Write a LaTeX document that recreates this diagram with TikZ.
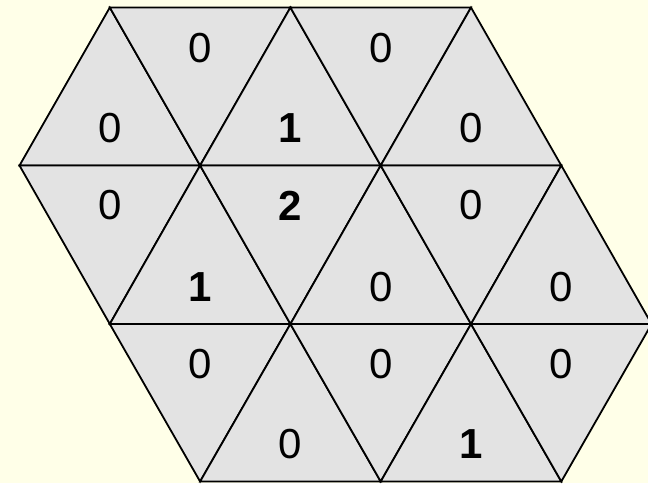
\documentclass[tikz,border=0pt]{standalone}
\usepackage{fontspec}
\setmainfont{Liberation Sans}
\definecolor{bgc}{HTML}{FFFFE8}
\definecolor{tric}{HTML}{E3E3E3}
\begin{document}
\begin{tikzpicture}[x=1pt,y=-1pt,
  tri/.style={fill=tric,draw=black,line width=1.8pt,line join=miter},
  lab/.style={font=\fontsize{42}{44}\selectfont,inner sep=0pt},
  blab/.style={font=\fontsize{42}{44}\selectfont\bfseries,inner sep=0pt}]
\fill[bgc] (0,0) rectangle (648,483);
\clip (0,0) rectangle (648,483);
% vertex rows
\def\ya{7.5}\def\yb{165.5}\def\yc{324}\def\yd{481.5}
\foreach \k in {0,...,7}{\pgfmathsetmacro\xx{19.5+90.3*\k}
  \coordinate (a\k) at (\xx,\ya);
  \coordinate (b\k) at (\xx,\yb);
  \coordinate (c\k) at (\xx,\yc);
  \coordinate (d\k) at (\xx,\yd);}
% row 1
\draw[tri] (b0)--(a1)--(b2)--cycle;
\draw[tri] (a1)--(a3)--(b2)--cycle;
\draw[tri] (b2)--(a3)--(b4)--cycle;
\draw[tri] (a3)--(a5)--(b4)--cycle;
\draw[tri] (b4)--(a5)--(b6)--cycle;
% row 2
\draw[tri] (b0)--(b2)--(c1)--cycle;
\draw[tri] (c1)--(b2)--(c3)--cycle;
\draw[tri] (b2)--(b4)--(c3)--cycle;
\draw[tri] (c3)--(b4)--(c5)--cycle;
\draw[tri] (b4)--(b6)--(c5)--cycle;
\draw[tri] (c5)--(b6)--(c7)--cycle;
% row 3
\draw[tri] (c1)--(c3)--(d2)--cycle;
\draw[tri] (d2)--(c3)--(d4)--cycle;
\draw[tri] (c3)--(c5)--(d4)--cycle;
\draw[tri] (d4)--(c5)--(d6)--cycle;
\draw[tri] (c5)--(c7)--(d6)--cycle;
% labels row 1
\node[lab]  (t12) at (200.1,48) {0};
\node[lab]  (t14) at (380.7,48) {0};
\node[lab]  (t11) at (109.8,128.5) {0};
\node[blab] (t13) at (290.4,128.5) {1};
\node[lab]  (t15) at (471.0,128.5) {0};
% labels row 2
\node[lab]  (t21) at (109.8,205.5) {0};
\node[blab] (t23) at (290.4,205.5) {2};
\node[lab]  (t25) at (471.0,205.5) {0};
\node[blab] (t22) at (200.1,287) {1};
\node[lab]  (t24) at (380.7,287) {0};
\node[lab]  (t26) at (561.3,287) {0};
% labels row 3
\node[lab]  (t32) at (200.1,364) {0};
\node[lab]  (t34) at (380.7,364) {0};
\node[lab]  (t36) at (561.3,364) {0};
\node[lab]  (t33) at (290.4,444.5) {0};
\node[blab] (t35) at (471.0,444.5) {1};
\end{tikzpicture}
\end{document}
